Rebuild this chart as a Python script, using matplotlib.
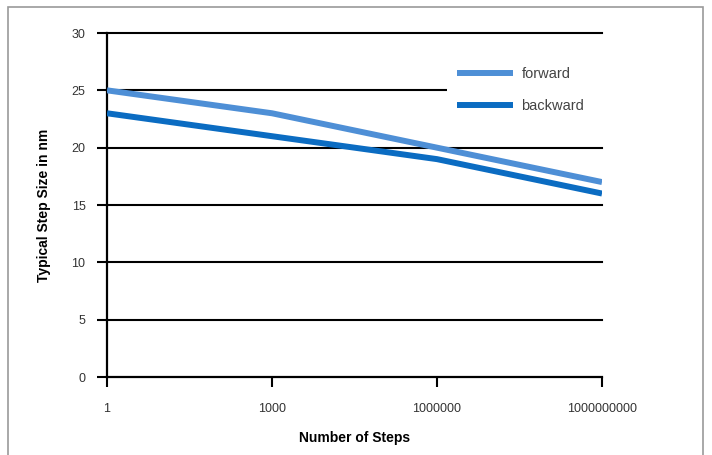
import matplotlib.pyplot as plt
from matplotlib.patches import Rectangle

steps = [1, 1000, 1000000, 1000000000]
step_labels = ["1", "1000", "1000000", "1000000000"]
forward = [25, 23, 20, 17]
backward = [23, 21, 19, 16]
y_ticks = [0, 5, 10, 15, 20, 25, 30]

plt.rcParams['font.family'] = ['Liberation Sans Narrow', 'Liberation Sans', 'DejaVu Sans']

fig = plt.figure(figsize=(7.12, 4.55), dpi=100)
fig.patch.set_facecolor('white')
# thin grey frame round the whole picture
fig.patches.append(Rectangle((8 / 712, -0.05), 695 / 712, 1.05 - 7 / 455,
                             transform=fig.transFigure, fill=False,
                             edgecolor='#9a9a9a', linewidth=1.2))

ax = fig.add_axes([107 / 712, 1 - 377 / 455, 495 / 712, 344 / 455])
ax.set_xscale('log')
ax.set_xlim(1, 1e9)
ax.set_ylim(0, 30)

ax.plot(steps, forward, color='#4e8fd6', linewidth=4.3, label='forward',
        solid_capstyle='butt', zorder=3)
ax.plot(steps, backward, color='#0b6cc2', linewidth=4.3, label='backward',
        solid_capstyle='butt', zorder=3)

ax.set_xticks(steps)
ax.set_xticklabels(step_labels)
ax.minorticks_off()
ax.set_yticks(y_ticks)

for g in y_ticks[1:]:
    ax.axhline(g, color='black', linewidth=1.5, zorder=1, clip_on=False)

for s in ['top', 'right']:
    ax.spines[s].set_visible(False)
for s in ['left', 'bottom']:
    ax.spines[s].set_linewidth(1.6)
    ax.spines[s].set_color('black')

ax.tick_params(axis='both', direction='out', length=7.5, width=1.5,
               labelsize=9, labelcolor='#333333', color='black')
ax.tick_params(axis='y', pad=8)
ax.tick_params(axis='x', pad=11)

ax.set_xlabel('Number of Steps', fontsize=10, fontweight='bold', labelpad=12)
ax.set_ylabel('Typical Step Size in nm', fontsize=10, fontweight='bold', labelpad=15)

leg = ax.legend(loc='upper left', bbox_to_anchor=(0.687, 0.65, 0.32, 0.28),
                mode='expand', borderaxespad=0, frameon=True, fancybox=False,
                facecolor='white', edgecolor='none', framealpha=1,
                fontsize=10.5, handlelength=3.8, handletextpad=0.6,
                labelspacing=1.2, borderpad=0.7)
leg.set_zorder(5)
for t in leg.get_texts():
    t.set_color('#444444')

fig.savefig('out.png', dpi=100)
